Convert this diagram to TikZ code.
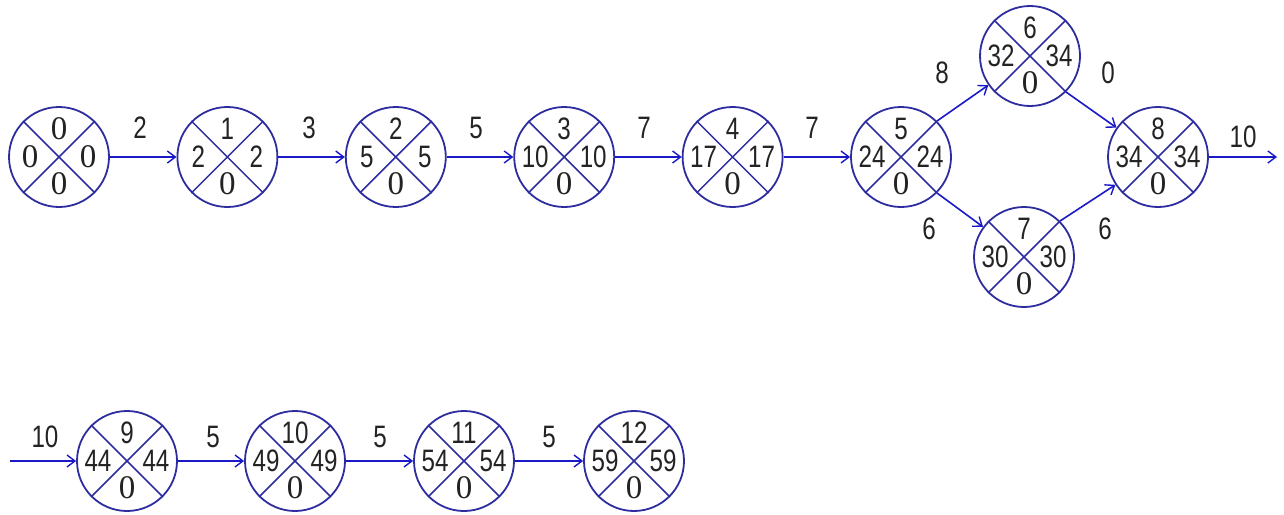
\documentclass[tikz,border=0pt]{standalone}
\usepackage{fontspec}
\setmainfont{Liberation Sans}[FakeStretch=0.78]
\newfontfamily\zserif{Liberation Serif}
\usetikzlibrary{arrows.meta}
\definecolor{ring}{RGB}{45,45,160}
\definecolor{arr}{RGB}{25,25,200}
\definecolor{txt}{RGB}{35,35,35}
\tikzset{
 ev/.style={circle, draw=ring, line width=1.8pt, minimum size=100pt, inner sep=0pt},
 cross/.style={draw=ring, line width=1.5pt},
 num/.style={text=txt, font=\fontsize{31}{31}\selectfont, inner sep=0pt},
 zero/.style={text=txt, font=\zserif\fontsize{33}{33}\selectfont, inner sep=0pt},
 act/.style={draw=arr, line width=1.6pt, -{Straight Barb[length=8pt,width=12pt,line width=1.4pt]}},
 lab/.style={text=txt, font=\fontsize{31}{31}\selectfont, inner sep=0pt},
}
\newcommand{\ev}[8]{%
 \node[ev] (#1) at (#2,#3) {};
 \draw[cross] (#1.45) -- (#1.225);
 \draw[cross] (#1.135) -- (#1.315);
 \node[#8] (#1t) at ([yshift=28pt]#1.center) {#4};
 \node[#8] (#1l) at ([xshift=-29pt]#1.center) {#5};
 \node[#8] (#1r) at ([xshift=29pt]#1.center) {#6};
 \node[zero] (#1b) at ([yshift=-27pt]#1.center) {#7};
}
\begin{document}
\begin{tikzpicture}[x=1pt,y=-1pt]
\useasboundingbox (0,0) rectangle (1284,514);
\ev{n0}{59}{157}{0}{0}{0}{0}{zero}
\ev{n1}{227.4}{157}{1}{2}{2}{0}{num}
\ev{n2}{395.8}{157}{2}{5}{5}{0}{num}
\ev{n3}{564.2}{157}{3}{10}{10}{0}{num}
\ev{n4}{732.6}{157}{4}{17}{17}{0}{num}
\ev{n5}{901}{157}{5}{24}{24}{0}{num}
\ev{n6}{1030}{56}{6}{32}{34}{0}{num}
\ev{n7}{1024}{257}{7}{30}{30}{0}{num}
\ev{n8}{1158}{157}{8}{34}{34}{0}{num}
\ev{n9}{127}{461}{9}{44}{44}{0}{num}
\ev{n10}{295}{461}{10}{49}{49}{0}{num}
\ev{n11}{464}{461}{11}{54}{54}{0}{num}
\ev{n12}{634}{461}{12}{59}{59}{0}{num}
\coordinate (out) at (1277,157);
\coordinate (in) at (10,461);
\draw[act] (n0) -- (n1);
\draw[act] (n1) -- (n2);
\draw[act] (n2) -- (n3);
\draw[act] (n3) -- (n4);
\draw[act] (n4) -- (n5);
\draw[act] (n5.45) -- (n6);
\draw[act] (n5.-45) -- (n7);
\draw[act] (n6.-45) -- (n8);
\draw[act] (n7.45) -- (n8);
\draw[act] (n8) -- (out);
\draw[act] (in) -- (n9);
\draw[act] (n9) -- (n10);
\draw[act] (n10) -- (n11);
\draw[act] (n11) -- (n12);
\node[lab] (l01) at (140,128) {2};
\node[lab] (l12) at (309,128) {3};
\node[lab] (l23) at (476,128) {5};
\node[lab] (l34) at (644,128) {7};
\node[lab] (l45) at (812,128) {7};
\node[lab] (l56) at (942,73) {8};
\node[lab] (l68) at (1108,73) {0};
\node[lab] (l57) at (929,229) {6};
\node[lab] (l78) at (1105,229) {6};
\node[lab] (lout) at (1243,137) {10};
\node[lab] (lin) at (45,437) {10};
\node[lab] (l910) at (213,437) {5};
\node[lab] (l1011) at (380,437) {5};
\node[lab] (l1112) at (549,437) {5};
\end{tikzpicture}
\end{document}
